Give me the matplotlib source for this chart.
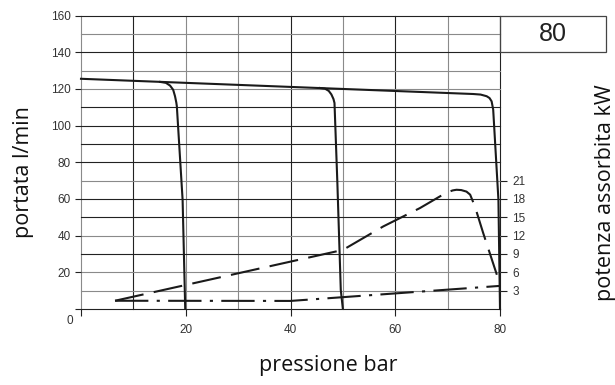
import matplotlib
matplotlib.use("Agg")
import matplotlib.pyplot as plt
from matplotlib.patches import Rectangle

# ---- data ----
pressure_main = [0, 74.9, 76.3, 77.45, 78.0, 78.4, 78.7, 79.7, 80.0]
flow_main = [125.5, 117.2, 116.9, 116.0, 115.0, 113.2, 108.7, 59.5, 0]

pressure_drop1 = [15.1, 16.2, 17.0, 17.6, 17.95, 18.2, 18.3, 19.4, 19.9]
flow_drop1 = [123.8, 123.3, 121.8, 119.5, 116.0, 112.5, 110.5, 59.5, 0]

pressure_drop2 = [45.6, 46.6, 47.3, 47.8, 48.2, 48.4, 48.95, 49.6, 50.0]
flow_drop2 = [120.5, 120.1, 118.9, 117.0, 114.5, 112.3, 68.6, 10.4, 0]

pressure_power = [6.5, 50, 57.7, 64.7, 69.8, 71.0, 71.7, 72.6, 73.6, 74.3, 75.2, 76.8, 79.4]
power_kw = [1.35, 9.66, 13.5, 16.5, 19.05, 19.4, 19.5, 19.45, 19.2, 18.7, 16.8, 12.4, 5.6]

pressure_power2 = [6.5, 40, 80]
power2_kw = [1.35, 1.32, 3.78]

x_ticks = [0, 20, 40, 60, 80]
x_labels = ["", "20", "40", "60", "80"]
y_ticks = [0, 20, 40, 60, 80, 100, 120, 140, 160]
y_labels = ["", "20", "40", "60", "80", "100", "120", "140", "160"]
kw_ticks = [3, 6, 9, 12, 15, 18, 21]
box_label = "80"

# grid shading (dark / gray lines as in the scan)
v_grid = [0, 10, 20, 30, 40, 50, 60, 70, 80]
v_dark = [False, True, False, False, True, False, True, False, True]
h_grid = [0, 10, 20, 30, 40, 50, 60, 70, 80, 90, 100, 110, 120, 130, 140, 150, 160]
h_dark = [True, False, False, True, False, True, True, False, True, True, True,
          True, False, False, True, False, True]

DARK = "#222222"
GRAY = "#8a8a8a"

fig = plt.figure(figsize=(6.15, 3.85), dpi=100)
W, H = 615, 385
fig.subplots_adjust(left=81 / W, right=500 / W, bottom=(H - 309) / H, top=(H - 15.5) / H)
ax = fig.add_subplot(111)
ax.set_xlim(0, 80)
ax.set_ylim(0, 160)
for s in ax.spines.values():
    s.set_visible(False)

for v, d in zip(v_grid, v_dark):
    ax.axvline(v, color=DARK if d else GRAY, lw=0.8, zorder=1, clip_on=False)
for h, d in zip(h_grid, h_dark):
    ax.axhline(h, color=DARK if d else GRAY, lw=0.8, zorder=1, clip_on=False)

tick_font = dict(family=["Liberation Sans", "DejaVu Sans"], size=8.5)
ax.set_xticks(x_ticks)
ax.set_xticklabels(x_labels, color="#333333", **tick_font)
ax.set_yticks(y_ticks)
ax.set_yticklabels(y_labels, color="#333333", **tick_font)
ax.tick_params(axis="x", direction="out", length=5, width=0.8, color=DARK, pad=6)
ax.tick_params(axis="y", direction="out", length=4.3, width=0.8, color=DARK, pad=3)
ax.text(-2.1, -6.5, "0", ha="center", va="center", color="#333333",
        clip_on=False, **tick_font)

lw = 1.5
ax.plot(pressure_main, flow_main, color="#1a1a1a", lw=lw, zorder=3,
        solid_joinstyle="round", clip_on=False)
ax.plot(pressure_drop1, flow_drop1, color="#1a1a1a", lw=lw, zorder=3,
        solid_joinstyle="round")
ax.plot(pressure_drop2, flow_drop2, color="#1a1a1a", lw=lw, zorder=3,
        solid_joinstyle="round")

ax2 = ax.twinx()
ax2.set_ylim(0, 48)
for s in ax2.spines.values():
    s.set_visible(False)
ax2.set_yticks(kw_ticks)
ax2.set_yticklabels([str(t) for t in kw_ticks], color="#333333", **tick_font)
ax2.tick_params(axis="y", direction="out", length=5, width=0.8, color=DARK, pad=4)
ax2.plot(pressure_power, power_kw, color="#1a1a1a", lw=lw,
         linestyle=(0, (14, 5)), zorder=3)
ax2.plot(pressure_power2, power2_kw, color="#1a1a1a", lw=lw,
         linestyle=(0, (16, 4, 1.5, 4)), zorder=3)

# box with "80" at the top right
box_w = (606 - 500) / 419
box_h = (52 - 15.5) / 293.5
ax.add_patch(Rectangle((1.0, 1.0 - box_h), box_w, box_h, transform=ax.transAxes,
                       fill=False, edgecolor="#444444", lw=0.9, clip_on=False, zorder=4))
ax.text(1.0 + box_w / 2, 1.0 - box_h / 2, box_label, transform=ax.transAxes,
        ha="center", va="center", fontsize=18, color="#222222",
        family=["Liberation Sans", "DejaVu Sans"])

label_font = dict(family=["Open Sans", "DejaVu Sans"], size=15.5, color="#111111")
fig.text(328 / W, 1 - 366 / H, "pressione bar", ha="center", va="center", **label_font)
fig.text(23 / W, 1 - 172 / H, "portata l/min", ha="center", va="center",
         rotation=90, **label_font)
fig.text(605 / W, 1 - 193 / H, "potenza assorbita kW", ha="center", va="center",
         rotation=90, **label_font)

fig.savefig("out.png", dpi=100)
